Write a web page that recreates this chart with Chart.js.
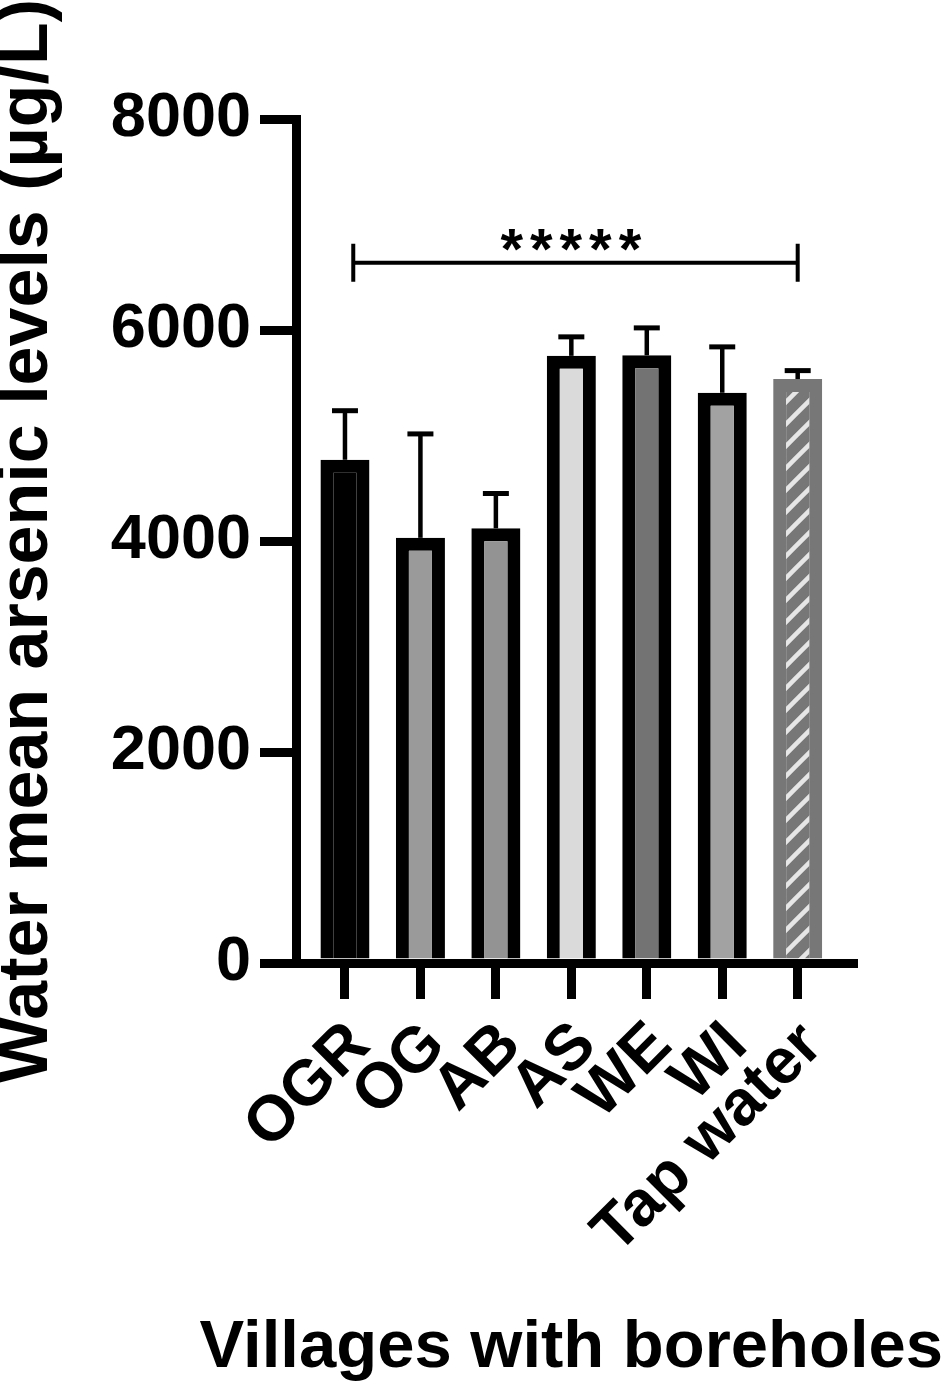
<!DOCTYPE html>
<html>
<head>
<meta charset="utf-8">
<script src="https://cdn.jsdelivr.net/npm/chart.js@4/dist/chart.umd.min.js"></script>
<style>
  html, body { margin: 0; padding: 0; background: #fff; }
  canvas { display: block; }
</style>
</head>
<body>
<canvas id="arsenicChart" width="945" height="1389"></canvas>
<script>
const categories = ['OGR', 'OG', 'AB', 'AS', 'WE', 'WI', 'Tap water'];
const means = [4770, 4030, 4120, 5755, 5760, 5405, 5535];
const errors = [465, 985, 330, 180, 260, 435, 80];
const fills = ['#000000', '#9a9a9a', '#939393', '#dadada', '#737373', '#a2a2a2', 'hatch'];
const yTicks = [0, 2000, 4000, 6000, 8000];
const bracket = { from: 0.11, to: 6, value: 6638, label: '*****' };
const xTitle = 'Villages with boreholes';

const FONT = 'Arial, "Liberation Sans", Helvetica, sans-serif';

function makeHatch() {
    const size = 22;
    const c = document.createElement('canvas');
    c.width = size;
    c.height = size;
    const g = c.getContext('2d');
    g.fillStyle = '#777777';
    g.fillRect(0, 0, size, size);
    g.strokeStyle = '#e6e6e6';
    g.lineWidth = 4.5;
    g.beginPath();
    g.moveTo(-size, size * 2); g.lineTo(size * 2, -size);
    g.moveTo(-size, size); g.lineTo(size, -size);
    g.moveTo(0, size * 2); g.lineTo(size * 2, 0);
    g.stroke();
    return g.createPattern(c, 'repeat');
}

const hatch = makeHatch();
const bgColors = fills.map(f => f === 'hatch' ? hatch : f);
const borderColors = fills.map(f => f === 'hatch' ? '#777777' : '#000000');

// upper error bars, significance bracket, x title (wider than the plot)
const extras = {
    id: 'extras',
    afterDatasetsDraw(chart) {
        const { ctx, scales: { x, y } } = chart;
        ctx.save();
        ctx.strokeStyle = '#000';
        ctx.lineCap = 'butt';

        means.forEach((m, i) => {
            const cx = x.getPixelForValue(i);
            const base = y.getPixelForValue(m);
            const top = y.getPixelForValue(m + errors[i]);
            ctx.lineWidth = 4.5;
            ctx.beginPath();
            ctx.moveTo(cx, base);
            ctx.lineTo(cx, top);
            ctx.stroke();
            ctx.lineWidth = 5;
            ctx.beginPath();
            ctx.moveTo(cx - 13, top);
            ctx.lineTo(cx + 13, top);
            ctx.stroke();
        });

        const bx1 = x.getPixelForValue(bracket.from);
        const bx2 = x.getPixelForValue(bracket.to);
        const by = y.getPixelForValue(bracket.value);
        ctx.lineWidth = 4;
        ctx.beginPath();
        ctx.moveTo(bx1, by); ctx.lineTo(bx2, by);
        ctx.moveTo(bx1, by - 19); ctx.lineTo(bx1, by + 19);
        ctx.moveTo(bx2, by - 19); ctx.lineTo(bx2, by + 19);
        ctx.stroke();

        ctx.fillStyle = '#000';
        ctx.font = 'bold 58px ' + FONT;
        ctx.textAlign = 'center';
        ctx.textBaseline = 'alphabetic';
        ctx.letterSpacing = '7px';
        const mid = x.getPixelForValue((0 + bracket.to) / 2);
        ctx.fillText(bracket.label, mid + 3, by + 6);

        ctx.letterSpacing = '0px';
        ctx.font = 'bold 67px ' + FONT;
        ctx.fillText(xTitle, x.getPixelForValue(3), 1367);
        ctx.restore();
    }
};

new Chart(document.getElementById('arsenicChart'), {
    type: 'bar',
    data: {
        datasets: [{
            data: means.map((m, i) => ({ x: i, y: m })),
            backgroundColor: bgColors,
            borderColor: borderColors,
            borderWidth: 13,
            borderSkipped: 'start',
            barPercentage: 0.65,
            categoryPercentage: 1
        }]
    },
    options: {
        responsive: false,
        animation: false,
        devicePixelRatio: 1,
        layout: { padding: { left: 0, top: 119, right: 92, bottom: 0 } },
        plugins: { legend: { display: false }, tooltip: { enabled: false } },
        scales: {
            x: {
                type: 'linear',
                min: -0.649,
                max: 6.733,
                offset: false,
                afterBuildTicks: s => { s.ticks = categories.map((c, i) => ({ value: i })); },
                afterFit: s => { s.height = 426; },
                border: { display: true, width: 9, color: '#000' },
                grid: { offset: false, drawOnChartArea: false, tickLength: 36, tickWidth: 9, lineWidth: 9, color: '#000' },
                ticks: {
                    autoSkip: false,
                    minRotation: 45,
                    maxRotation: 45,
                    padding: 9,
                    labelOffset: 15,
                    color: '#000',
                    font: { family: FONT, size: 64, weight: 'bold' },
                    callback: v => categories[v]
                },
                title: { display: false }
            },
            y: {
                min: 0,
                max: 8000,
                afterBuildTicks: s => { s.ticks = yTicks.map(v => ({ value: v })); },
                afterFit: s => { s.width = 296; },
                border: { display: true, width: 9, color: '#000' },
                grid: { drawOnChartArea: false, tickLength: 36, tickWidth: 9, lineWidth: 9, color: '#000' },
                ticks: {
                    padding: 9,
                    color: '#000',
                    font: { family: FONT, size: 63, weight: 'bold' },
                    callback: v => String(v)
                },
                title: {
                    display: true,
                    text: 'Water mean arsenic levels (µg/L)',
                    color: '#000',
                    padding: { top: 0, bottom: 0 },
                    font: { family: FONT, size: 70, weight: 'bold', lineHeight: 0.8 }
                }
            }
        }
    },
    plugins: [extras]
});
</script>
</body>
</html>
